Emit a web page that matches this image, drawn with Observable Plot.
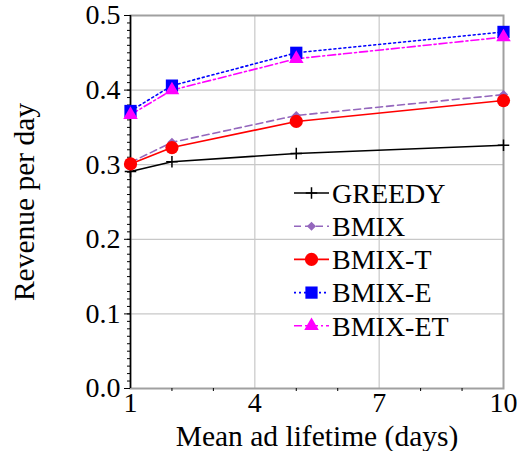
<!DOCTYPE html>
<html>
<head>
<meta charset="utf-8">
<script src="https://cdn.jsdelivr.net/npm/d3@7"></script>
<script src="https://cdn.jsdelivr.net/npm/@observablehq/plot@0.6"></script>
<style>
  html, body { margin: 0; padding: 0; background: #fff; }
  #chart { width: 517px; height: 451px; }
</style>
</head>
<body>
<div id="chart"></div>
<script>
// ---- data ----
const lifetimes = [1, 2, 5, 10];
const seriesNames = ["GREEDY", "BMIX", "BMIX-T", "BMIX-E", "BMIX-ET"];
const greedy = [0.291, 0.304, 0.315, 0.326];
const bmix   = [0.303, 0.330, 0.366, 0.394];
const bmixT  = [0.301, 0.323, 0.358, 0.386];
const bmixE  = [0.372, 0.406, 0.450, 0.478];
const bmixET = [0.367, 0.400, 0.442, 0.471];
const xTicks = [1, 4, 7, 10];
const xMinorTicks = [2, 3, 5, 6, 8, 9];
const yTicks = [0, 0.1, 0.2, 0.3, 0.4, 0.5];
const yMinorTicks = d3.range(0, 51).map(i => i / 100);

// ---- styles ----
const styles = [
  {color: "#000000", dash: null,        symbol: "plus",     r: 3.8, fill: "none"},
  {color: "#9467bd", dash: "7,4",       symbol: "diamond2", r: 4.1, fill: "#9467bd"},
  {color: "#ff0000", dash: null,        symbol: "circle",   r: 6.6, fill: "#ff0000"},
  {color: "#0000ff", dash: "2,3",       symbol: "square",   r: 6.9, fill: "#0000ff"},
  {color: "#ff00ff", dash: "8,3,2,3",   symbol: "triangle", r: 5.4, fill: "#ff00ff"}
];
const values = [greedy, bmix, bmixT, bmixE, bmixET];

const tables = seriesNames.map((name, i) =>
  lifetimes.map((x, j) => ({series: name, x, y: values[i][j]})));

const font = "Liberation Serif";
const gridColor = "#c8c8c8";
const frameColor = "#a0a0a0";
const tickFont = 28, titleFont = 29.5, legendFont = 28;

const marks = [
  Plot.gridX(xTicks.slice(1, 3), {stroke: gridColor, strokeOpacity: 1, strokeWidth: 1.2}),
  Plot.gridY(yTicks.slice(1, 5), {stroke: gridColor, strokeOpacity: 1, strokeWidth: 1.2}),
  Plot.frame({stroke: frameColor, strokeWidth: 2}),
  Plot.axisY(yMinorTicks, {tickSize: 3, tickFormat: () => "", label: null, strokeWidth: 1}),
  Plot.axisY(yTicks, {tickSize: 6, tickPadding: 4, tickFormat: d3.format(".1f"),
    fontSize: tickFont, fontFamily: font, label: null}),
  Plot.axisY({ticks: [], tickSize: 0, fontSize: titleFont, fontFamily: font,
    label: "Revenue per day", labelAnchor: "center", labelOffset: 117, labelArrow: "none"}),
  Plot.axisX(xMinorTicks, {tickSize: 3, tickFormat: () => "", label: null}),
  Plot.axisX(xTicks, {tickSize: 0, tickPadding: 4, fontSize: tickFont, fontFamily: font, label: null}),
  Plot.axisX({ticks: [], tickSize: 0, fontSize: titleFont, fontFamily: font,
    label: "Mean ad lifetime (days)", labelAnchor: "center", labelOffset: 57, labelArrow: "none"}),
  Plot.ruleX([1], {stroke: "#000", strokeWidth: 1.5})
];

tables.forEach((t, i) => {
  const s = styles[i];
  marks.push(Plot.line(t, {x: "x", y: "y", stroke: s.color, strokeWidth: 1.6,
    strokeDasharray: s.dash || undefined}));
});
tables.forEach((t, i) => {
  const s = styles[i];
  marks.push(Plot.dot(t, {x: "x", y: "y", symbol: () => s.symbol, r: s.r,
    fill: s.fill, stroke: s.color, strokeWidth: s.fill === "none" ? 1.5 : 0}));
});

const chart = Plot.plot({
  width: 517,
  height: 451,
  marginLeft: 130,
  marginRight: 14,
  marginTop: 15,
  marginBottom: 63,
  style: {fontFamily: font, fontSize: tickFont + "px", color: "#000", background: "#fff", overflow: "visible"},
  x: {domain: [1, 10]},
  y: {domain: [0, 0.5]},
  symbol: {type: "identity"},
  marks
});

// ---- legend (inside plot area) ----
const svg = d3.select(chart);
const legend = svg.append("g").attr("text-anchor", "start")
  .attr("font-family", font).attr("font-size", legendFont);
const symMap = {plus: d3.symbolPlus, diamond2: d3.symbolDiamond2, circle: d3.symbolCircle,
  square: d3.symbolSquare, triangle: d3.symbolTriangle};
seriesNames.forEach((name, i) => {
  const s = styles[i];
  const y0 = 193 + i * 33.2;
  const g = legend.append("g").attr("transform", `translate(0,${y0})`);
  g.append("line").attr("x1", 294).attr("x2", 329).attr("y1", 0).attr("y2", 0)
    .attr("stroke", s.color).attr("stroke-width", 1.6)
    .attr("stroke-dasharray", s.dash || null);
  g.append("path").attr("transform", "translate(311.5,0)")
    .attr("d", d3.symbol(symMap[s.symbol], Math.PI * s.r * s.r)())
    .attr("fill", s.fill).attr("stroke", s.fill === "none" ? s.color : "none")
    .attr("stroke-width", 1.5);
  g.append("text").attr("x", 332).attr("y", 0).attr("dy", "0.35em").text(name);
});

document.getElementById("chart").appendChild(chart);
</script>
</body>
</html>
